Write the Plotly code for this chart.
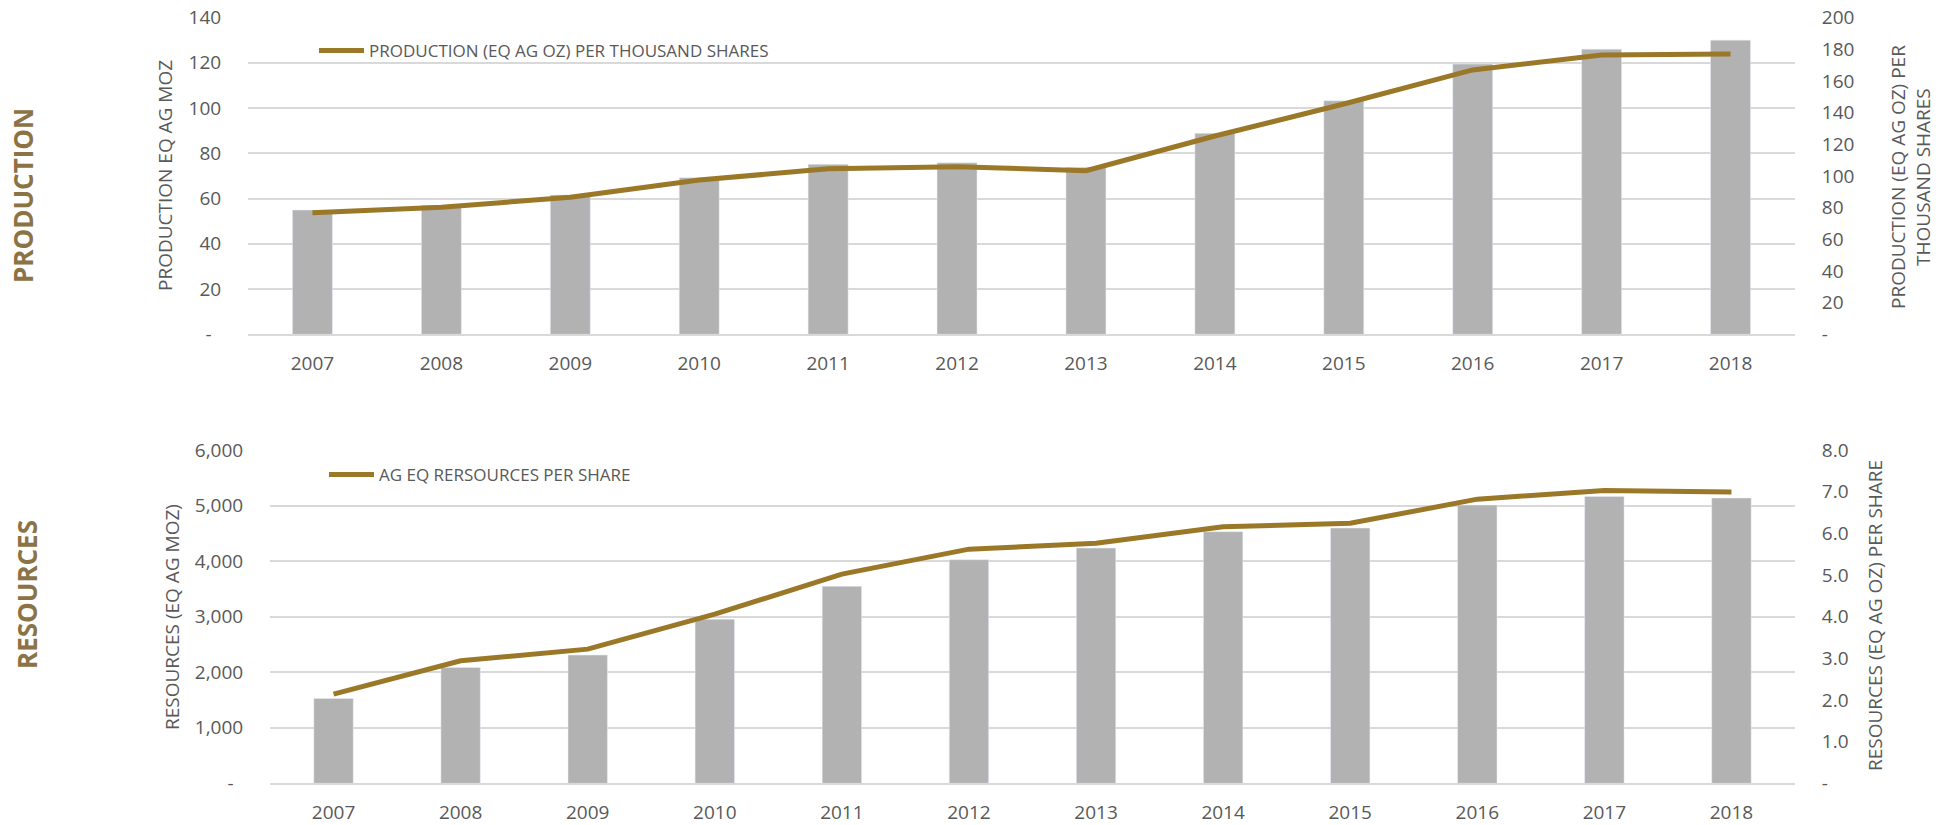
import plotly.graph_objects as go

years = ["2007", "2008", "2009", "2010", "2011", "2012", "2013", "2014", "2015", "2016", "2017", "2018"]

production_moz = [54.9, 57.0, 61.6, 69.2, 75.1, 75.8, 73.8, 88.8, 103.2, 119.4, 126.0, 130.0]
production_per_thousand = [76.8, 80.2, 86.5, 97.4, 104.5, 105.8, 103.3, 125.2, 145.4, 166.9, 176.3, 177.0]

resources_moz = [1526, 2085, 2309, 2952, 3546, 4025, 4235, 4529, 4595, 5009, 5165, 5135]
resources_per_share = [2.14, 2.94, 3.22, 4.06, 5.02, 5.62, 5.76, 6.16, 6.24, 6.82, 7.03, 6.99]

prod_left_ticks = [0, 20, 40, 60, 80, 100, 120, 140]
prod_left_text = ["-\u2002", "20", "40", "60", "80", "100", "120", "140"]
prod_right_ticks = [0, 20, 40, 60, 80, 100, 120, 140, 160, 180, 200]
prod_right_text = ["-", "20", "40", "60", "80", "100", "120", "140", "160", "180", "200"]
res_left_ticks = [0, 1000, 2000, 3000, 4000, 5000, 6000]
res_left_text = ["-\u2002", "1,000", "2,000", "3,000", "4,000", "5,000", "6,000"]
res_right_ticks = [0, 1, 2, 3, 4, 5, 6, 7, 8]
res_right_text = ["-", "1.0", "2.0", "3.0", "4.0", "5.0", "6.0", "7.0", "8.0"]

W, H = 1952, 825
BAR = "#B2B2B2"
GOLD = "#9A7828"
GRID = "#D9D9D9"
TXT = "#595959"
LABEL = "#8C7346"
FONT = "Open Sans"

def px(x):
    return x / W

def py(y):
    return 1 - y / H

fig = go.Figure()

fig.add_trace(go.Bar(x=years, y=production_moz, marker_color=BAR, width=0.31,
                     showlegend=False, xaxis="x", yaxis="y"))
fig.add_trace(go.Scatter(x=years, y=production_per_thousand, mode="lines",
                         line=dict(color=GOLD, width=5),
                         name="PRODUCTION (EQ AG OZ) PER THOUSAND SHARES",
                         xaxis="x", yaxis="y2", legend="legend"))

fig.add_trace(go.Bar(x=years, y=resources_moz, marker_color=BAR, width=0.31,
                     showlegend=False, xaxis="x2", yaxis="y3"))
fig.add_trace(go.Scatter(x=years, y=resources_per_share, mode="lines",
                         line=dict(color=GOLD, width=5),
                         name="AG EQ RERSOURCES PER SHARE",
                         xaxis="x2", yaxis="y4", legend="legend2"))

tickfont = dict(family=FONT, size=19, color=TXT)

xcommon = dict(type="category", showgrid=False, showline=True, linecolor=GRID, linewidth=2,
               ticks="outside", ticklen=11, tickcolor="rgba(0,0,0,0)", tickfont=tickfont,
               zeroline=False, fixedrange=True, automargin=False)
ycommon = dict(showgrid=True, gridcolor=GRID, gridwidth=1.5, zeroline=False, showline=False,
               ticks="outside", ticklen=22, tickcolor="rgba(0,0,0,0)", tickfont=tickfont,
               fixedrange=True, automargin=False)

top_dom = [py(334.3), py(17.5)]
bot_dom = [py(783.3), py(450)]

fig.update_layout(
    width=W, height=H,
    margin=dict(l=0, r=0, t=0, b=0, autoexpand=False),
    paper_bgcolor="white", plot_bgcolor="white",
    barmode="overlay",
    font=dict(family=FONT, color=TXT),
    xaxis=dict(domain=[px(248), px(1795)], anchor="y", **xcommon),
    yaxis=dict(domain=top_dom, anchor="x", range=[0, 140], tickvals=prod_left_ticks,
               ticktext=prod_left_text, **ycommon),
    yaxis2=dict(overlaying="y", side="right", anchor="x", range=[0, 200],
                tickvals=prod_right_ticks, ticktext=prod_right_text,
                **{**ycommon, "showgrid": False}),
    xaxis2=dict(domain=[px(270), px(1795)], anchor="y3", **xcommon),
    yaxis3=dict(domain=bot_dom, anchor="x2", range=[0, 6000], tickvals=res_left_ticks,
                ticktext=res_left_text, **ycommon),
    yaxis4=dict(overlaying="y3", side="right", anchor="x2", range=[0, 8],
                tickvals=res_right_ticks, ticktext=res_right_text,
                **{**ycommon, "showgrid": False}),
    legend=dict(x=px(314), y=py(51), xanchor="left", yanchor="middle",
                bgcolor="rgba(0,0,0,0)", itemwidth=45,
                font=dict(family=FONT, size=17, color=TXT)),
    legend2=dict(x=px(324), y=py(475), xanchor="left", yanchor="middle",
                 bgcolor="rgba(0,0,0,0)", itemwidth=45,
                 font=dict(family=FONT, size=17, color=TXT)),
)

title_font = dict(family=FONT, size=19, color=TXT)
annots = [
    dict(text="PRODUCTION EQ AG MOZ", x=px(165), y=py(176), textangle=-90, font=title_font),
    dict(text="PRODUCTION (EQ AG OZ) PER<br>THOUSAND SHARES", x=px(1910), y=py(177),
         textangle=-90, font=title_font),
    dict(text="RESOURCES (EQ AG MOZ)", x=px(172), y=py(617), textangle=-90, font=title_font),
    dict(text="RESOURCES (EQ AG OZ) PER SHARE", x=px(1875), y=py(616), textangle=-90,
         font=title_font),
    dict(text="<b>PRODUCTION</b>", x=px(23), y=py(196), textangle=-90,
         font=dict(family=FONT, size=26, color=LABEL)),
    dict(text="<b>RESOURCES</b>", x=px(27), y=py(595), textangle=-90,
         font=dict(family=FONT, size=26, color=LABEL)),
]
for a in annots:
    fig.add_annotation(xref="paper", yref="paper", xanchor="center", yanchor="middle",
                       showarrow=False, **a)

fig.write_html("out.html")
